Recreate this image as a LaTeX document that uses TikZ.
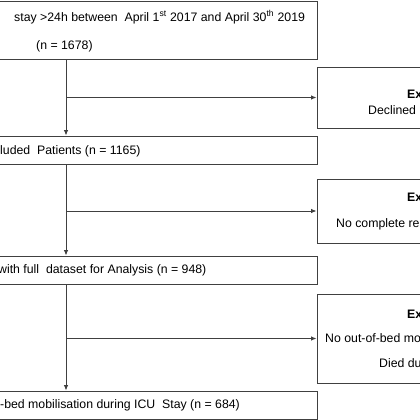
\documentclass[tikz,border=0pt]{standalone}
\usepackage{fontspec}
\setmainfont{Liberation Sans}
\usetikzlibrary{arrows.meta,positioning,calc}

\begin{document}
\begin{tikzpicture}[x=1pt, y=-1pt,
  box/.style={rectangle, draw=black!75, line width=0.9pt, inner sep=0pt},
  txt/.style={font=\fontsize{12.3}{14}\selectfont, inner sep=0pt, anchor=west},
  arrow/.style={-{Latex[length=5.5pt,width=4.5pt]}, draw=black!75, line width=0.9pt},
]
  \useasboundingbox (0,0) rectangle (420,420);
  \clip (0,0) rectangle (420,420);

  % Main boxes
  \node[box, minimum width=417pt, minimum height=58pt] (cohort) at (108.5, 30) {};
  \node[box, minimum width=417pt, minimum height=28pt] (incl)   at (108.5, 150) {};
  \node[box, minimum width=417pt, minimum height=28pt] (full)   at (108.5, 270) {};
  \node[box, minimum width=417pt, minimum height=28pt] (mobil)  at (108.5, 405) {};

  % Exclusion boxes
  \node[box, minimum width=203pt, minimum height=61pt] (exA) at (418.5, 97.5) {};
  \node[box, minimum width=203pt, minimum height=64pt] (exB) at (418.5, 211) {};
  \node[box, minimum width=203pt, minimum height=89pt] (exC) at (418.5, 338.5) {};

  % Texts
  \node[txt] at (14, 17) {stay >24h between\ \ April 1\textsuperscript{st} 2017 and April 30\textsuperscript{th} 2019};
  \node[txt] at (36, 46) {(n = 1678)};
  \node[txt] at (0, 151) {luded\ \ Patients (n = 1165)};
  \node[txt] at (-2, 270) {with full\ \ dataset for Analysis (n = 948)};
  \node[txt] at (0, 405) {-bed mobilisation during ICU\ \ Stay (n = 684)};

  \node[txt, font=\fontsize{12.3}{14}\selectfont\bfseries] at (407, 94) {Ex};
  \node[txt] at (368, 110) {Declined};
  \node[txt, font=\fontsize{12.3}{14}\selectfont\bfseries] at (407, 197) {Ex};
  \node[txt] at (336, 224) {No complete re};
  \node[txt, font=\fontsize{12.3}{14}\selectfont\bfseries] at (407, 314) {Ex};
  \node[txt] at (325, 338) {No out-of-bed mo};
  \node[txt] at (379, 363) {Died du};

  % Connectors
  \coordinate (spine) at (66, 0);
  \draw[arrow] (cohort.south -| spine) -- (incl.north -| spine);
  \draw[arrow] (incl.south -| spine) -- (full.north -| spine);
  \draw[arrow] (full.south -| spine) -- (mobil.north -| spine);
  \draw[arrow] (spine |- exA.west) -- (exA.west);
  \draw[arrow] (spine |- exB.west) -- (exB.west);
  \draw[arrow] (spine |- exC.west) -- (exC.west);
\end{tikzpicture}
\end{document}
